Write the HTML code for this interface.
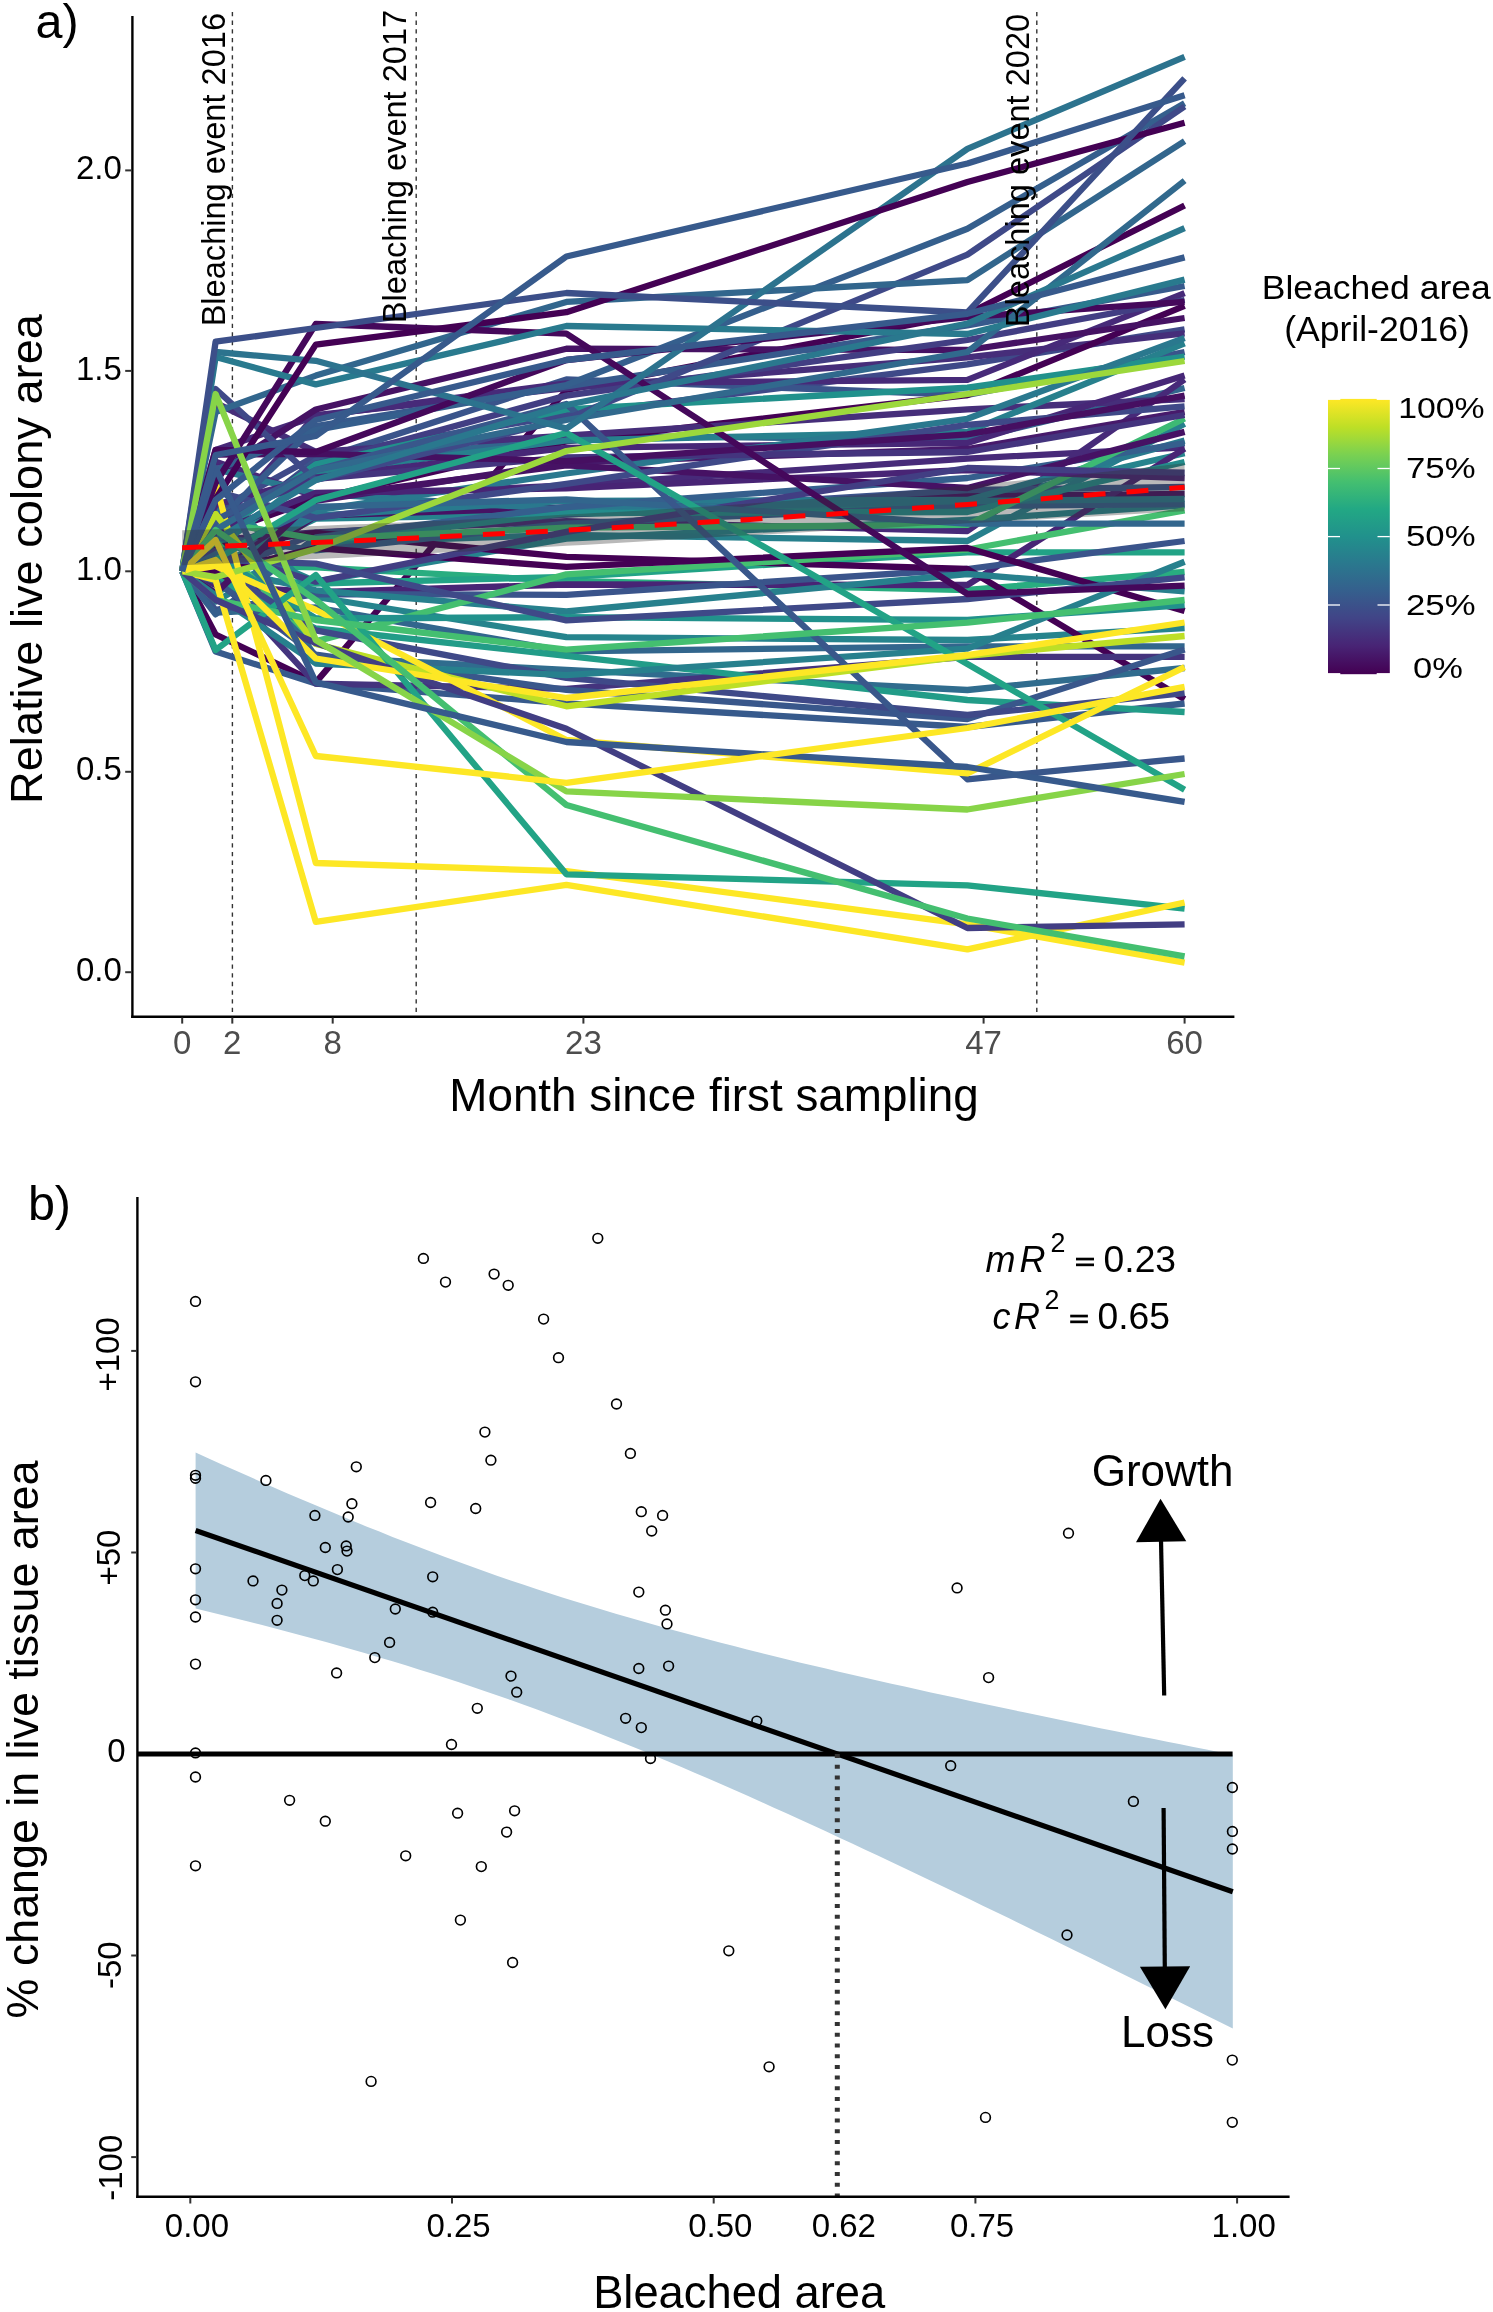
<!DOCTYPE html><html><head><meta charset="utf-8"><style>html,body{margin:0;padding:0;background:#fff;width:1493px;height:2312px;overflow:hidden}</style></head><body><svg width="1493" height="2312" viewBox="0 0 1493 2312" style="position:absolute;left:0;top:0;font-family:'Liberation Sans', sans-serif;will-change:transform">
<rect width="1493" height="2312" fill="#fff"/>
<line x1="232.4" y1="11.9" x2="232.4" y2="1014" stroke="#333" stroke-width="1.4" stroke-dasharray="4.32 4.34"/>
<line x1="416.2" y1="11.9" x2="416.2" y2="1014" stroke="#333" stroke-width="1.4" stroke-dasharray="4.32 4.34"/>
<line x1="1036.8" y1="11.9" x2="1036.8" y2="1014" stroke="#333" stroke-width="1.4" stroke-dasharray="4.32 4.34"/>
<g fill="none" stroke-width="6.3" stroke-linejoin="round" stroke-linecap="butt">
<path d="M182.2,571.3 L215.6,634.5 L315.8,682.4 L566.4,390.0 L967.4,314.0 L1184.6,205.5" stroke="#440154"/>
<path d="M182.2,571.3 L215.6,566.1 L315.8,518.7 L566.4,514.3 L967.4,503.0 L1184.6,453.3" stroke="#26848d"/>
<path d="M182.2,571.3 L215.6,564.8 L315.8,567.4 L566.4,581.0 L967.4,590.0 L1184.6,572.0" stroke="#29ad80"/>
<path d="M182.2,571.3 L215.6,521.1 L315.8,469.4 L566.4,435.4 L967.4,440.0 L1184.6,388.0" stroke="#32668d"/>
<path d="M182.2,571.3 L215.6,612.6 L315.8,607.5 L566.4,651.3 L967.4,646.4 L1184.6,646.4" stroke="#32668d"/>
<path d="M182.2,571.3 L215.6,511.1 L315.8,456.0 L566.4,415.0 L967.4,364.3 L1184.6,329.3" stroke="#3f4988"/>
<path d="M182.2,571.3 L215.6,577.9 L315.8,583.5 L566.4,577.0 L967.4,552.4 L1184.6,552.4" stroke="#22a386"/>
<path d="M182.2,571.3 L215.6,528.6 L315.8,415.1 L566.4,388.2 L967.4,357.4 L1184.6,333.3" stroke="#462e7a"/>
<path d="M182.2,571.3 L215.6,537.8 L315.8,460.4 L566.4,379.4 L967.4,395.0 L1184.6,352.0" stroke="#3a548b"/>
<path d="M182.2,571.3 L215.6,534.7 L315.8,498.7 L566.4,441.4 L967.4,395.0 L1184.6,305.8" stroke="#440154"/>
<path d="M182.2,571.3 L215.6,539.9 L315.8,532.3 L566.4,521.1 L967.4,531.0 L1184.6,379.5" stroke="#472a79"/>
<path d="M182.2,571.3 L215.6,402.9 L315.8,451.8 L566.4,435.6 L967.4,409.3 L1184.6,399.0" stroke="#462e7a"/>
<path d="M182.2,571.3 L215.6,537.5 L315.8,581.7 L566.4,538.6 L967.4,520.0 L1184.6,505.3" stroke="#26848d"/>
<path d="M182.2,571.3 L215.6,482.1 L315.8,597.0 L566.4,637.2 L967.4,640.0 L1184.6,628.0" stroke="#26848d"/>
<path d="M182.2,571.3 L215.6,449.9 L315.8,416.2 L566.4,383.4 L967.4,379.9 L1184.6,293.1" stroke="#472a79"/>
<path d="M182.2,571.3 L215.6,461.6 L315.8,496.5 L566.4,485.5 L967.4,458.6 L1184.6,447.3" stroke="#472a79"/>
<path d="M182.2,571.3 L215.6,584.2 L315.8,515.6 L566.4,507.4 L967.4,496.0 L1184.6,494.0" stroke="#461264"/>
<path d="M182.2,571.3 L215.6,548.7 L315.8,472.6 L566.4,440.5 L967.4,431.8 L1184.6,343.3" stroke="#27808d"/>
<path d="M182.2,571.3 L215.6,585.2 L315.8,592.2 L566.4,584.5 L967.4,585.0 L1184.6,448.6" stroke="#482475"/>
<path d="M182.2,571.3 L215.6,574.1 L315.8,533.4 L566.4,514.6 L967.4,490.0 L1184.6,487.0" stroke="#3b528a"/>
<path d="M182.2,571.3 L215.6,601.6 L315.8,543.0 L566.4,534.8 L967.4,541.0 L1184.6,423.8" stroke="#27808d"/>
<path d="M182.2,571.3 L215.6,473.8 L315.8,409.5 L566.4,348.7 L967.4,350.0 L1184.6,318.0" stroke="#461264"/>
<path d="M182.2,571.3 L215.6,609.8 L315.8,594.1 L566.4,594.8 L967.4,569.0 L1184.6,541.0" stroke="#3a548b"/>
<path d="M182.2,571.3 L215.6,570.0 L315.8,515.6 L566.4,500.8 L967.4,500.0 L1184.6,440.6" stroke="#297a8e"/>
<path d="M182.2,571.3 L215.6,547.2 L315.8,532.8 L566.4,556.9 L967.4,569.0 L1184.6,699.3" stroke="#440154"/>
<path d="M182.2,571.3 L215.6,537.1 L315.8,550.3 L566.4,523.6 L967.4,506.0 L1184.6,504.0" stroke="#355f8d"/>
<path d="M182.2,571.3 L215.6,651.5 L315.8,683.6 L566.4,703.3 L967.4,727.0 L1184.6,703.5" stroke="#375a8c"/>
<path d="M182.2,571.3 L215.6,530.4 L315.8,464.1 L566.4,395.6 L967.4,340.0 L1184.6,300.0" stroke="#423e83"/>
<path d="M182.2,571.3 L215.6,535.4 L315.8,464.4 L566.4,409.4 L967.4,387.6 L1184.6,356.7" stroke="#21918c"/>
<path d="M182.2,571.3 L215.6,469.3 L315.8,493.6 L566.4,509.6 L967.4,501.0 L1184.6,499.0" stroke="#2a788e"/>
<path d="M182.2,571.3 L215.6,593.0 L315.8,542.5 L566.4,513.0 L967.4,512.0 L1184.6,462.0" stroke="#238c8c"/>
<path d="M182.2,571.3 L215.6,614.3 L315.8,537.5 L566.4,507.0 L967.4,478.0 L1184.6,443.0" stroke="#355f8d"/>
<path d="M182.2,571.3 L215.6,509.3 L315.8,657.0 L566.4,669.9 L967.4,690.0 L1184.6,668.0" stroke="#306c8e"/>
<path d="M182.2,571.3 L215.6,504.8 L315.8,477.6 L566.4,447.8 L967.4,443.0 L1184.6,375.5" stroke="#472777"/>
<path d="M182.2,571.3 L215.6,567.1 L315.8,590.3 L566.4,611.5 L967.4,574.0 L1184.6,591.4" stroke="#27808d"/>
<path d="M182.2,571.3 L215.6,574.9 L315.8,683.6 L566.4,688.9 L967.4,656.8 L1184.6,656.8" stroke="#44347e"/>
<path d="M182.2,571.3 L215.6,541.3 L315.8,641.4 L566.4,574.4 L967.4,549.5 L1184.6,510.4" stroke="#44bf70"/>
<path d="M182.2,571.3 L215.6,575.6 L315.8,501.0 L566.4,462.7 L967.4,449.0 L1184.6,411.8" stroke="#471a6b"/>
<path d="M182.2,571.3 L215.6,578.8 L315.8,628.5 L566.4,655.8 L967.4,700.0 L1184.6,712.0" stroke="#229c88"/>
<path d="M182.2,571.3 L215.6,581.3 L315.8,654.7 L566.4,689.9 L967.4,719.0 L1184.6,649.5" stroke="#39578b"/>
<path d="M182.2,571.3 L215.6,575.9 L315.8,510.4 L566.4,473.5 L967.4,418.8 L1184.6,338.0" stroke="#2a788e"/>
<path d="M182.2,571.3 L215.6,521.8 L315.8,538.8 L566.4,527.7 L967.4,524.8 L1184.6,418.5" stroke="#3dba74"/>
<path d="M182.2,571.3 L215.6,532.3 L315.8,493.0 L566.4,488.4 L967.4,470.0 L1184.6,478.0" stroke="#482475"/>
<path d="M182.2,571.3 L215.6,593.1 L315.8,497.7 L566.4,465.3 L967.4,488.0 L1184.6,431.9" stroke="#461264"/>
<path d="M182.2,571.3 L215.6,572.2 L315.8,548.0 L566.4,566.9 L967.4,548.0 L1184.6,611.1" stroke="#440154"/>
<path d="M182.2,571.3 L215.6,565.6 L315.8,630.3 L566.4,677.9 L967.4,715.0 L1184.6,693.1" stroke="#3f4988"/>
<path d="M182.2,571.3 L215.6,491.6 L315.8,517.9 L566.4,483.8 L967.4,424.8 L1184.6,406.4" stroke="#3f4988"/>
<path d="M182.2,571.3 L215.6,595.3 L315.8,663.5 L566.4,675.1 L967.4,648.6 L1184.6,561.8" stroke="#27808d"/>
<path d="M182.2,571.3 L215.6,555.9 L315.8,618.5 L566.4,617.2 L967.4,620.0 L1184.6,605.0" stroke="#21918c"/>
<path d="M182.2,571.3 L215.6,550.8 L315.8,581.7 L566.4,531.8 L967.4,468.0 L1184.6,472.7" stroke="#423e83"/>
<path d="M182.2,571.3 L215.6,523.0 L315.8,426.2 L566.4,386.3 L967.4,325.4 L1184.6,286.0" stroke="#375a8c"/>
<path d="M182.2,571.3 L215.6,554.2 L315.8,506.9 L566.4,499.3 L967.4,523.7 L1184.6,523.7" stroke="#32668d"/>
<path d="M182.2,571.3 L215.6,518.1 L315.8,478.8 L566.4,457.3 L967.4,452.0 L1184.6,415.0" stroke="#44347e"/>
<path d="M182.2,571.3 L215.6,559.9 L315.8,563.6 L566.4,620.4 L967.4,599.0 L1184.6,577.3" stroke="#3f4988"/>
<path d="M182.2,571.3 L215.6,454.7 L315.8,453.8 L566.4,461.1 L967.4,434.4 L1184.6,395.6" stroke="#460f61"/>
<path d="M182.2,571.3 L215.6,482.7 L315.8,863.0 L566.4,871.2 L967.4,924.3 L1184.6,962.7" stroke="#fde725"/>
<path d="M182.2,571.3 L215.6,520.0 L315.8,470.0 L566.4,404.0 L967.4,779.3 L1184.6,758.5" stroke="#39578b"/>
<path d="M182.2,571.3 L215.6,470.0 L315.8,430.0 L566.4,385.0 L967.4,228.7 L1184.6,103.3" stroke="#355f8d"/>
<path d="M182.2,571.3 L215.6,389.0 L315.8,480.0 L566.4,419.0 L967.4,254.7 L1184.6,106.5" stroke="#3f4988"/>
<path d="M182.2,571.3 L215.6,560.0 L315.8,500.0 L566.4,433.0 L967.4,664.0 L1184.6,789.8" stroke="#22a386"/>
<path d="M182.2,571.3 L215.6,412.0 L315.8,375.6 L566.4,301.9 L967.4,280.1 L1184.6,141.1" stroke="#32668d"/>
<path d="M182.2,571.3 L215.6,514.0 L315.8,644.0 L566.4,706.3 L967.4,655.8 L1184.6,636.0" stroke="#bddf26"/>
<path d="M182.2,571.3 L215.6,449.8 L315.8,452.0 L566.4,360.0 L967.4,317.0 L1184.6,301.8" stroke="#45085b"/>
<path d="M182.2,571.3 L215.6,483.0 L315.8,324.0 L566.4,333.7 L967.4,594.0 L1184.6,585.6" stroke="#45085b"/>
<path d="M182.2,571.3 L215.6,566.0 L315.8,610.0 L566.4,740.0 L967.4,773.3 L1184.6,667.1" stroke="#fde725"/>
<path d="M182.2,571.3 L215.6,650.0 L315.8,575.0 L566.4,874.3 L967.4,885.3 L1184.6,908.7" stroke="#22a386"/>
<path d="M182.2,571.3 L215.6,580.0 L315.8,921.8 L566.4,884.8 L967.4,949.4 L1184.6,902.5" stroke="#fde725"/>
<path d="M182.2,571.3 L215.6,530.0 L315.8,470.0 L566.4,420.0 L967.4,352.0 L1184.6,180.6" stroke="#31698d"/>
<path d="M182.2,571.3 L215.6,357.0 L315.8,384.4 L566.4,326.0 L967.4,334.0 L1184.6,279.6" stroke="#297a8e"/>
<path d="M182.2,571.3 L215.6,600.0 L315.8,620.0 L566.4,649.7 L967.4,622.6 L1184.6,600.0" stroke="#44bf70"/>
<path d="M182.2,571.3 L215.6,352.0 L315.8,360.8 L566.4,428.6 L967.4,148.8 L1184.6,56.8" stroke="#2c738e"/>
<path d="M182.2,571.3 L215.6,600.0 L315.8,643.0 L566.4,728.8 L967.4,928.0 L1184.6,924.3" stroke="#423e83"/>
<path d="M182.2,571.3 L215.6,577.0 L315.8,549.0 L566.4,451.0 L967.4,394.0 L1184.6,361.0" stroke="#9cd83c"/>
<path d="M182.2,571.3 L215.6,540.0 L315.8,480.0 L566.4,405.0 L967.4,323.7 L1184.6,228.2" stroke="#2a788e"/>
<path d="M182.2,571.3 L215.6,560.0 L315.8,658.5 L566.4,698.0 L967.4,655.0 L1184.6,622.5" stroke="#fde725"/>
<path d="M182.2,571.3 L215.6,499.0 L315.8,344.6 L566.4,312.2 L967.4,182.0 L1184.6,122.7" stroke="#440154"/>
<path d="M182.2,571.3 L215.6,530.0 L315.8,600.0 L566.4,805.0 L967.4,918.5 L1184.6,956.4" stroke="#44bf70"/>
<path d="M182.2,571.3 L215.6,341.7 L315.8,328.0 L566.4,293.0 L967.4,312.5 L1184.6,78.4" stroke="#3c4f89"/>
<path d="M182.2,571.3 L215.6,500.0 L315.8,420.0 L566.4,360.0 L967.4,313.8 L1184.6,257.4" stroke="#375a8c"/>
<path d="M182.2,571.3 L215.6,394.0 L315.8,640.0 L566.4,791.4 L967.4,809.5 L1184.6,774.0" stroke="#87d448"/>
<path d="M182.2,571.3 L215.6,468.0 L315.8,682.4 L566.4,742.0 L967.4,767.0 L1184.6,801.8" stroke="#375a8c"/>
<path d="M182.2,571.3 L215.6,540.0 L315.8,756.0 L566.4,782.8 L967.4,728.0 L1184.6,686.8" stroke="#fde725"/>
<path d="M182.2,571.3 L215.6,455.0 L315.8,436.0 L566.4,256.5 L967.4,163.5 L1184.6,95.2" stroke="#375a8c"/>
</g>
<path d="M182.2,530.2 L198.9,529.7 L215.6,529.2 L232.3,528.7 L249.0,528.2 L265.7,527.6 L282.4,527.0 L299.1,526.5 L315.8,525.9 L332.6,525.2 L349.3,524.6 L366.0,523.9 L382.7,523.3 L399.4,522.6 L416.1,521.8 L432.8,521.1 L449.5,520.4 L466.2,519.6 L482.9,518.8 L499.6,518.0 L516.3,517.2 L533.0,516.4 L549.7,515.5 L566.4,514.6 L583.1,513.7 L599.8,512.8 L616.6,511.9 L633.3,511.0 L650.0,510.0 L666.7,509.0 L683.4,508.0 L700.1,507.0 L716.8,505.9 L733.5,504.7 L750.2,503.5 L766.9,502.3 L783.6,501.1 L800.3,499.8 L817.0,498.5 L833.7,497.1 L850.4,495.8 L867.1,494.4 L883.9,493.0 L900.6,491.5 L917.3,490.1 L934.0,488.6 L950.7,487.0 L967.4,485.5 L984.1,483.9 L1000.8,482.3 L1017.5,480.7 L1034.2,479.1 L1050.9,477.4 L1067.6,475.7 L1084.3,474.0 L1101.0,472.2 L1117.7,470.5 L1134.4,468.7 L1151.1,466.9 L1167.9,465.0 L1184.6,463.2 L1184.6,511.2 L1167.9,512.1 L1151.1,513.1 L1134.4,514.0 L1117.7,515.0 L1101.0,515.9 L1084.3,516.9 L1067.6,517.8 L1050.9,518.7 L1034.2,519.7 L1017.5,520.6 L1000.8,521.5 L984.1,522.4 L967.4,523.3 L950.7,524.3 L934.0,525.2 L917.3,526.1 L900.6,527.0 L883.9,527.9 L867.1,528.8 L850.4,529.7 L833.7,530.6 L817.0,531.5 L800.3,532.4 L783.6,533.4 L766.9,534.3 L750.2,535.2 L733.5,536.1 L716.8,537.1 L700.1,538.0 L683.4,539.0 L666.7,540.0 L650.0,541.0 L633.3,542.0 L616.6,543.0 L599.8,543.9 L583.1,544.9 L566.4,545.8 L549.7,546.8 L533.0,547.7 L516.3,548.6 L499.6,549.6 L482.9,550.5 L466.2,551.4 L449.5,552.2 L432.8,553.1 L416.1,554.0 L399.4,554.8 L382.7,555.7 L366.0,556.5 L349.3,557.4 L332.6,558.2 L315.8,559.0 L299.1,559.8 L282.4,560.6 L265.7,561.4 L249.0,562.2 L232.3,562.9 L215.6,563.7 L198.9,564.4 L182.2,565.2Z" fill="#333333" fill-opacity="0.34"/>
<path d="M182.2,547.7 L198.9,547.1 L215.6,546.5 L232.3,545.8 L249.0,545.2 L265.7,544.5 L282.4,543.8 L299.1,543.1 L315.8,542.4 L332.6,541.7 L349.3,541.0 L366.0,540.2 L382.7,539.5 L399.4,538.7 L416.1,537.9 L432.8,537.1 L449.5,536.3 L466.2,535.5 L482.9,534.6 L499.6,533.8 L516.3,532.9 L533.0,532.0 L549.7,531.1 L566.4,530.2 L583.1,529.3 L599.8,528.4 L616.6,527.4 L633.3,526.5 L650.0,525.5 L666.7,524.5 L683.4,523.5 L700.1,522.5 L716.8,521.5 L733.5,520.4 L750.2,519.4 L766.9,518.3 L783.6,517.2 L800.3,516.1 L817.0,515.0 L833.7,513.9 L850.4,512.8 L867.1,511.6 L883.9,510.4 L900.6,509.3 L917.3,508.1 L934.0,506.9 L950.7,505.6 L967.4,504.4 L984.1,503.2 L1000.8,501.9 L1017.5,500.6 L1034.2,499.4 L1050.9,498.1 L1067.6,496.7 L1084.3,495.4 L1101.0,494.1 L1117.7,492.7 L1134.4,491.4 L1151.1,490.0 L1167.9,488.6 L1184.6,487.2" fill="none" stroke="#ff0000" stroke-width="5" stroke-dasharray="22 21"/>
<text transform="translate(224.5,13.0) rotate(-90)" text-anchor="end" font-size="32.6" fill="#000">Bleaching event 2016</text>
<text transform="translate(405.8,9.8) rotate(-90)" text-anchor="end" font-size="32.6" fill="#000">Bleaching event 2017</text>
<text transform="translate(1029.0,13.8) rotate(-90)" text-anchor="end" font-size="32.6" fill="#000">Bleaching event 2020</text>
<g stroke="#000" stroke-width="2.4" fill="none">
<line x1="132.4" y1="16" x2="132.4" y2="1017.9"/>
<line x1="131.2" y1="1016.7" x2="1234.4" y2="1016.7"/>
</g>
<g stroke="#333" stroke-width="2">
<line x1="125.2" y1="972.2" x2="132" y2="972.2"/>
<line x1="125.2" y1="771.8" x2="132" y2="771.8"/>
<line x1="125.2" y1="571.3" x2="132" y2="571.3"/>
<line x1="125.2" y1="370.9" x2="132" y2="370.9"/>
<line x1="125.2" y1="170.4" x2="132" y2="170.4"/>
<line x1="182.2" y1="1017.5" x2="182.2" y2="1023.6"/>
<line x1="232.3" y1="1017.5" x2="232.3" y2="1023.6"/>
<line x1="332.7" y1="1017.5" x2="332.7" y2="1023.6"/>
<line x1="583.4" y1="1017.5" x2="583.4" y2="1023.6"/>
<line x1="983.6" y1="1017.5" x2="983.6" y2="1023.6"/>
<line x1="1184.6" y1="1017.5" x2="1184.6" y2="1023.6"/>
</g>
<text x="121.8" y="980.8" text-anchor="end" font-size="33" fill="#000">0.0</text>
<text x="121.8" y="780.4" text-anchor="end" font-size="33" fill="#000">0.5</text>
<text x="121.8" y="579.9" text-anchor="end" font-size="33" fill="#000">1.0</text>
<text x="121.8" y="379.5" text-anchor="end" font-size="33" fill="#000">1.5</text>
<text x="121.8" y="179.0" text-anchor="end" font-size="33" fill="#000">2.0</text>
<text x="182.2" y="1054" text-anchor="middle" font-size="33" fill="#4d4d4d">0</text>
<text x="232.3" y="1054" text-anchor="middle" font-size="33" fill="#4d4d4d">2</text>
<text x="332.7" y="1054" text-anchor="middle" font-size="33" fill="#4d4d4d">8</text>
<text x="583.4" y="1054" text-anchor="middle" font-size="33" fill="#4d4d4d">23</text>
<text x="983.6" y="1054" text-anchor="middle" font-size="33" fill="#4d4d4d">47</text>
<text x="1184.6" y="1054" text-anchor="middle" font-size="33" fill="#4d4d4d">60</text>
<text x="714.0" y="1110.5" text-anchor="middle" font-size="45.8" fill="#000">Month since first sampling</text>
<text transform="translate(42.0,559.0) rotate(-90)" text-anchor="middle" font-size="45.2" fill="#000">Relative live colony area</text>
<text x="35.5" y="37.6" font-size="48.5" fill="#000">a)</text>
<defs><linearGradient id="vg" x1="0" y1="1" x2="0" y2="0"><stop offset="0.0" stop-color="#440154"/><stop offset="0.1" stop-color="#482475"/><stop offset="0.2" stop-color="#414487"/><stop offset="0.3" stop-color="#355f8d"/><stop offset="0.4" stop-color="#2a788e"/><stop offset="0.5" stop-color="#21918c"/><stop offset="0.6" stop-color="#22a884"/><stop offset="0.7" stop-color="#44bf70"/><stop offset="0.8" stop-color="#7ad151"/><stop offset="0.9" stop-color="#bddf26"/><stop offset="1.0" stop-color="#fde725"/></linearGradient></defs>
<rect x="1328" y="399.9" width="61.8" height="273.2" fill="url(#vg)"/>
<rect x="1340.3" y="398.9" width="36.4" height="1.2" fill="#fde725"/><rect x="1340.3" y="673" width="36.4" height="1.2" fill="#440154"/>
<g stroke="#fff" stroke-width="1.3">
<line x1="1328" y1="468.5" x2="1340" y2="468.5"/><line x1="1377.5" y1="468.5" x2="1389.8" y2="468.5"/>
<line x1="1328" y1="536.6" x2="1340" y2="536.6"/><line x1="1377.5" y1="536.6" x2="1389.8" y2="536.6"/>
<line x1="1328" y1="605.0" x2="1340" y2="605.0"/><line x1="1377.5" y1="605.0" x2="1389.8" y2="605.0"/>
</g>
<text x="1376.3" y="299.3" text-anchor="middle" font-size="33.5" fill="#000" textLength="229" lengthAdjust="spacingAndGlyphs">Bleached area</text>
<text x="1377" y="341.2" text-anchor="middle" font-size="35" fill="#000" textLength="185.7" lengthAdjust="spacingAndGlyphs">(April-2016)</text>
<text x="1441.4" y="417.6" text-anchor="middle" font-size="30.4" fill="#000" textLength="86.5" lengthAdjust="spacingAndGlyphs">100%</text>
<text x="1440.8" y="478.1" text-anchor="middle" font-size="30.4" fill="#000" textLength="69.5" lengthAdjust="spacingAndGlyphs">75%</text>
<text x="1440.8" y="546.3" text-anchor="middle" font-size="30.4" fill="#000" textLength="69.5" lengthAdjust="spacingAndGlyphs">50%</text>
<text x="1440.8" y="614.7" text-anchor="middle" font-size="30.4" fill="#000" textLength="69.5" lengthAdjust="spacingAndGlyphs">25%</text>
<text x="1438.0" y="677.6" text-anchor="middle" font-size="30.4" fill="#000" textLength="49.8" lengthAdjust="spacingAndGlyphs">0%</text>
<path d="M195.6,1452.5 L208.7,1458.5 L221.9,1464.4 L235.0,1470.3 L248.1,1476.1 L261.2,1481.9 L274.4,1487.7 L287.5,1493.4 L300.6,1499.0 L313.8,1504.6 L326.9,1510.1 L340.0,1515.6 L353.1,1521.0 L366.3,1526.4 L379.4,1531.6 L392.5,1536.9 L405.7,1542.0 L418.8,1547.1 L431.9,1552.1 L445.1,1557.0 L458.2,1561.8 L471.3,1566.6 L484.4,1571.3 L497.6,1575.9 L510.7,1580.4 L523.8,1584.8 L537.0,1589.2 L550.1,1593.5 L563.2,1597.7 L576.3,1601.8 L589.5,1605.8 L602.6,1609.8 L615.7,1613.7 L628.9,1617.6 L642.0,1621.3 L655.1,1625.0 L668.2,1628.7 L681.4,1632.3 L694.5,1635.8 L707.6,1639.3 L720.8,1642.7 L733.9,1646.1 L747.0,1649.4 L760.2,1652.7 L773.3,1656.0 L786.4,1659.2 L799.5,1662.4 L812.7,1665.5 L825.8,1668.6 L838.9,1671.7 L852.1,1674.7 L865.2,1677.7 L878.3,1680.7 L891.4,1683.7 L904.6,1686.6 L917.7,1689.5 L930.8,1692.4 L944.0,1695.3 L957.1,1698.1 L970.2,1700.9 L983.3,1703.8 L996.5,1706.5 L1009.6,1709.3 L1022.7,1712.1 L1035.9,1714.8 L1049.0,1717.6 L1062.1,1720.3 L1075.3,1723.0 L1088.4,1725.7 L1101.5,1728.4 L1114.6,1731.1 L1127.8,1733.8 L1140.9,1736.4 L1154.0,1739.1 L1167.2,1741.7 L1180.3,1744.3 L1193.4,1747.0 L1206.5,1749.6 L1219.7,1752.2 L1232.8,1754.8 L1232.8,2028.6 L1219.7,2022.1 L1206.5,2015.6 L1193.4,2009.0 L1180.3,2002.5 L1167.2,1996.0 L1154.0,1989.5 L1140.9,1983.0 L1127.8,1976.5 L1114.6,1970.0 L1101.5,1963.6 L1088.4,1957.1 L1075.3,1950.7 L1062.1,1944.2 L1049.0,1937.8 L1035.9,1931.4 L1022.7,1925.0 L1009.6,1918.6 L996.5,1912.3 L983.3,1905.9 L970.2,1899.6 L957.1,1893.3 L944.0,1887.0 L930.8,1880.7 L917.7,1874.5 L904.6,1868.2 L891.4,1862.0 L878.3,1855.8 L865.2,1849.7 L852.1,1843.5 L838.9,1837.4 L825.8,1831.3 L812.7,1825.3 L799.5,1819.3 L786.4,1813.3 L773.3,1807.4 L760.2,1801.5 L747.0,1795.6 L733.9,1789.8 L720.8,1784.1 L707.6,1778.3 L694.5,1772.7 L681.4,1767.1 L668.2,1761.5 L655.1,1756.0 L642.0,1750.6 L628.9,1745.2 L615.7,1739.9 L602.6,1734.7 L589.5,1729.5 L576.3,1724.4 L563.2,1719.4 L550.1,1714.4 L537.0,1709.6 L523.8,1704.8 L510.7,1700.1 L497.6,1695.5 L484.4,1690.9 L471.3,1686.5 L458.2,1682.1 L445.1,1677.8 L431.9,1673.5 L418.8,1669.4 L405.7,1665.3 L392.5,1661.3 L379.4,1657.4 L366.3,1653.5 L353.1,1649.7 L340.0,1646.0 L326.9,1642.3 L313.8,1638.7 L300.6,1635.2 L287.5,1631.7 L274.4,1628.2 L261.2,1624.8 L248.1,1621.5 L235.0,1618.2 L221.9,1614.9 L208.7,1611.7 L195.6,1608.5Z" fill="#b5cddd"/>
<line x1="137.4" y1="1754" x2="1232.6" y2="1754" stroke="#000" stroke-width="4.8"/>
<line x1="195.6" y1="1530.5" x2="1232.8" y2="1891.7" stroke="#000" stroke-width="5.2"/>
<line x1="837.3" y1="1754" x2="837.3" y2="2196" stroke="#333" stroke-width="5" stroke-dasharray="4 6.72"/>
<g fill="none" stroke="#000" stroke-width="1.65">
<circle cx="195.5" cy="1301.4" r="4.85"/>
<circle cx="195.5" cy="1381.8" r="4.85"/>
<circle cx="423.4" cy="1258.4" r="4.85"/>
<circle cx="445.5" cy="1282.1" r="4.85"/>
<circle cx="494.1" cy="1274.1" r="4.85"/>
<circle cx="508.2" cy="1285.3" r="4.85"/>
<circle cx="597.8" cy="1238.3" r="4.85"/>
<circle cx="543.6" cy="1319.1" r="4.85"/>
<circle cx="558.5" cy="1357.7" r="4.85"/>
<circle cx="616.5" cy="1404.0" r="4.85"/>
<circle cx="484.9" cy="1432.1" r="4.85"/>
<circle cx="490.9" cy="1460.2" r="4.85"/>
<circle cx="630.4" cy="1453.4" r="4.85"/>
<circle cx="356.3" cy="1466.8" r="4.85"/>
<circle cx="195.5" cy="1475.3" r="4.85"/>
<circle cx="195.5" cy="1478.3" r="4.85"/>
<circle cx="265.9" cy="1480.4" r="4.85"/>
<circle cx="430.6" cy="1502.5" r="4.85"/>
<circle cx="351.9" cy="1503.7" r="4.85"/>
<circle cx="475.7" cy="1508.5" r="4.85"/>
<circle cx="641.3" cy="1511.7" r="4.85"/>
<circle cx="662.6" cy="1515.4" r="4.85"/>
<circle cx="314.9" cy="1515.4" r="4.85"/>
<circle cx="348.2" cy="1517.0" r="4.85"/>
<circle cx="651.7" cy="1531.0" r="4.85"/>
<circle cx="325.3" cy="1547.5" r="4.85"/>
<circle cx="346.2" cy="1545.9" r="4.85"/>
<circle cx="347.0" cy="1551.1" r="4.85"/>
<circle cx="195.5" cy="1568.8" r="4.85"/>
<circle cx="337.4" cy="1569.6" r="4.85"/>
<circle cx="304.8" cy="1575.6" r="4.85"/>
<circle cx="253.0" cy="1580.9" r="4.85"/>
<circle cx="313.3" cy="1580.9" r="4.85"/>
<circle cx="432.7" cy="1576.8" r="4.85"/>
<circle cx="281.9" cy="1590.1" r="4.85"/>
<circle cx="638.8" cy="1592.1" r="4.85"/>
<circle cx="195.5" cy="1599.8" r="4.85"/>
<circle cx="277.1" cy="1603.4" r="4.85"/>
<circle cx="665.4" cy="1610.2" r="4.85"/>
<circle cx="395.3" cy="1609.0" r="4.85"/>
<circle cx="432.7" cy="1612.2" r="4.85"/>
<circle cx="195.5" cy="1617.0" r="4.85"/>
<circle cx="277.1" cy="1620.3" r="4.85"/>
<circle cx="667.0" cy="1623.9" r="4.85"/>
<circle cx="389.6" cy="1642.4" r="4.85"/>
<circle cx="374.8" cy="1657.6" r="4.85"/>
<circle cx="195.5" cy="1664.1" r="4.85"/>
<circle cx="638.8" cy="1668.5" r="4.85"/>
<circle cx="668.6" cy="1666.1" r="4.85"/>
<circle cx="336.6" cy="1672.9" r="4.85"/>
<circle cx="511.0" cy="1676.1" r="4.85"/>
<circle cx="516.7" cy="1692.2" r="4.85"/>
<circle cx="477.3" cy="1708.3" r="4.85"/>
<circle cx="625.6" cy="1718.3" r="4.85"/>
<circle cx="641.3" cy="1727.6" r="4.85"/>
<circle cx="451.5" cy="1744.5" r="4.85"/>
<circle cx="195.5" cy="1752.9" r="4.85"/>
<circle cx="650.5" cy="1758.5" r="4.85"/>
<circle cx="195.5" cy="1777.0" r="4.85"/>
<circle cx="289.6" cy="1800.3" r="4.85"/>
<circle cx="325.3" cy="1821.2" r="4.85"/>
<circle cx="457.6" cy="1813.2" r="4.85"/>
<circle cx="514.6" cy="1810.8" r="4.85"/>
<circle cx="506.6" cy="1832.1" r="4.85"/>
<circle cx="405.7" cy="1855.8" r="4.85"/>
<circle cx="481.3" cy="1866.6" r="4.85"/>
<circle cx="195.5" cy="1865.8" r="4.85"/>
<circle cx="460.4" cy="1920.1" r="4.85"/>
<circle cx="512.6" cy="1962.5" r="4.85"/>
<circle cx="728.8" cy="1950.8" r="4.85"/>
<circle cx="1068.5" cy="1533.2" r="4.85"/>
<circle cx="957.1" cy="1587.9" r="4.85"/>
<circle cx="988.6" cy="1677.6" r="4.85"/>
<circle cx="756.8" cy="1721.1" r="4.85"/>
<circle cx="950.7" cy="1765.7" r="4.85"/>
<circle cx="1133.4" cy="1801.4" r="4.85"/>
<circle cx="1232.4" cy="1787.5" r="4.85"/>
<circle cx="1232.4" cy="1831.4" r="4.85"/>
<circle cx="1232.4" cy="1849.0" r="4.85"/>
<circle cx="1067.0" cy="1935.0" r="4.85"/>
<circle cx="371.1" cy="2081.4" r="4.85"/>
<circle cx="769.1" cy="2066.8" r="4.85"/>
<circle cx="985.5" cy="2117.4" r="4.85"/>
<circle cx="1232.3" cy="2060.1" r="4.85"/>
<circle cx="1232.3" cy="2122.3" r="4.85"/>
</g>
<line x1="1164.2" y1="1695.5" x2="1161.0" y2="1540" stroke="#000" stroke-width="4.2"/>
<path d="M1160.5,1498.7 L1186.3,1541.3 L1136,1542.3 Z" fill="#000"/>
<line x1="1163.6" y1="1807.9" x2="1164.8" y2="1968" stroke="#000" stroke-width="4.2"/>
<path d="M1139.9,1966.8 L1190.2,1966.2 L1165.4,2009.2 Z" fill="#000"/>
<text x="1162.6" y="1485.8" text-anchor="middle" font-size="44" fill="#000">Growth</text>
<text x="1167.5" y="2046.7" text-anchor="middle" font-size="44" fill="#000">Loss</text>
<text x="985.6" y="1271.6" font-size="36" font-style="italic" fill="#000">m</text>
<text x="1019.5" y="1271.6" font-size="36" font-style="italic" fill="#000">R</text>
<text x="1050.6" y="1251.6" font-size="26.8" fill="#000">2</text>
<rect x="1076" y="1257.7" width="18" height="2.7" fill="#000"/><rect x="1076" y="1263.5" width="18" height="2.7" fill="#000"/>
<text x="1103.6" y="1271.6" font-size="36.5" fill="#000" textLength="72.5" lengthAdjust="spacingAndGlyphs">0.23</text>
<text x="992.4" y="1328.6" font-size="36" font-style="italic" fill="#000">c</text>
<text x="1014.1" y="1328.6" font-size="36" font-style="italic" fill="#000">R</text>
<text x="1044.4" y="1308.6" font-size="26.8" fill="#000">2</text>
<rect x="1070.2" y="1314.7" width="17.7" height="2.7" fill="#000"/><rect x="1070.2" y="1320.5" width="17.7" height="2.7" fill="#000"/>
<text x="1097.5" y="1328.6" font-size="36.5" fill="#000" textLength="72.5" lengthAdjust="spacingAndGlyphs">0.65</text>
<g stroke="#000" stroke-width="2.4" fill="none">
<line x1="137.4" y1="1196.9" x2="137.4" y2="2197.9"/>
<line x1="136.2" y1="2196.7" x2="1289.6" y2="2196.7"/>
</g>
<g stroke="#333" stroke-width="2">
<line x1="131.2" y1="1350.9" x2="137" y2="1350.9"/>
<line x1="131.2" y1="1552.5" x2="137" y2="1552.5"/>
<line x1="131.2" y1="1955.5" x2="137" y2="1955.5"/>
<line x1="131.2" y1="2157.1" x2="137" y2="2157.1"/>
<line x1="190.3" y1="2197.5" x2="190.3" y2="2203.5"/>
<line x1="452.0" y1="2197.5" x2="452.0" y2="2203.5"/>
<line x1="713.7" y1="2197.5" x2="713.7" y2="2203.5"/>
<line x1="975.4" y1="2197.5" x2="975.4" y2="2203.5"/>
<line x1="1237.1" y1="2197.5" x2="1237.1" y2="2203.5"/>
</g>
<text transform="translate(119.2,1354.35) rotate(-90)" text-anchor="middle" font-size="33" fill="#000">+100</text>
<text transform="translate(120.2,1557.55) rotate(-90)" text-anchor="middle" font-size="33" fill="#000">+50</text>
<text transform="translate(120.7,1965.15) rotate(-90)" text-anchor="middle" font-size="33" fill="#000">-50</text>
<text transform="translate(121.6,2167.75) rotate(-90)" text-anchor="middle" font-size="33" fill="#000">-100</text>
<text x="116.35" y="1761.9" text-anchor="middle" font-size="33" fill="#000">0</text>
<text x="196.9" y="2236.5" text-anchor="middle" font-size="33" fill="#000">0.00</text>
<text x="458.6" y="2236.5" text-anchor="middle" font-size="33" fill="#000">0.25</text>
<text x="720.3" y="2236.5" text-anchor="middle" font-size="33" fill="#000">0.50</text>
<text x="843.8" y="2236.5" text-anchor="middle" font-size="33" fill="#000">0.62</text>
<text x="982.0" y="2236.5" text-anchor="middle" font-size="33" fill="#000">0.75</text>
<text x="1243.7" y="2236.5" text-anchor="middle" font-size="33" fill="#000">1.00</text>
<text x="739.2" y="2307.9" text-anchor="middle" font-size="45.3" fill="#000">Bleached area</text>
<text transform="translate(37.9,1739.5) rotate(-90)" text-anchor="middle" font-size="44.8" fill="#000">% change in live tissue area</text>
<text x="27.9" y="1219.5" font-size="48.5" fill="#000">b)</text>
</svg></body></html>
